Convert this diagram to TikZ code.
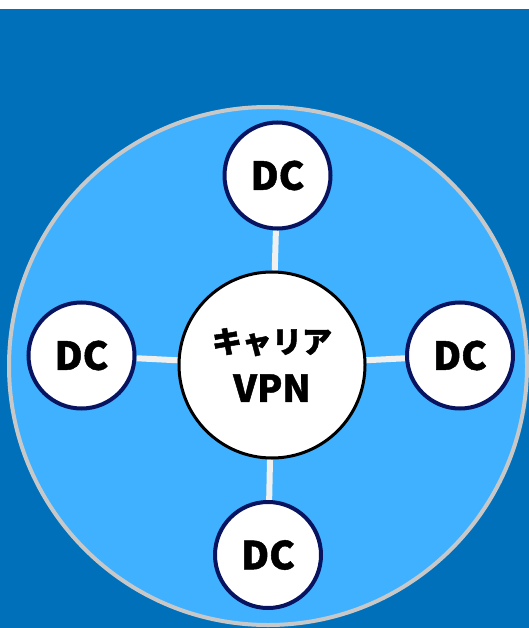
\documentclass[tikz,border=0pt]{standalone}
\usepackage{fontspec}
\setmainfont{Noto Sans CJK JP}[BoldFeatures={FakeBold=1.2}]
\newfontfamily\kanafont{Noto Sans CJK JP}[BoldFeatures={FakeBold=1.6}]
\usetikzlibrary{backgrounds}
\definecolor{deepblue}{RGB}{0,112,186}
\definecolor{skyblue}{RGB}{64,177,255}
\definecolor{ringgray}{RGB}{200,200,200}
\definecolor{navy}{RGB}{8,20,96}
\definecolor{linkgray}{RGB}{240,240,240}
\pgfdeclarelayer{back}
\pgfdeclarelayer{links}
\pgfsetlayers{back,links,main}
\tikzset{
  dcnode/.style={circle, draw=navy, line width=4pt, fill=white,
    minimum size=106pt, inner sep=0pt,
    font=\fontsize{38.5}{44}\selectfont\bfseries},
  hubnode/.style={circle, draw=black, line width=3pt, fill=white,
    minimum size=186pt, inner sep=0pt, align=center,
    font=\fontsize{37}{49}\selectfont\bfseries},
  link/.style={draw=linkgray, line width=6pt}
}
\newcommand{\kanaline}[1]{{\kanafont\bfseries\fontsize{30}{49}\selectfont #1}}
\begin{document}
\begin{tikzpicture}[x=1pt, y=-1pt]
  \useasboundingbox (0,0) rectangle (529,628);
  \begin{pgfonlayer}{back}
    \clip (0,0) rectangle (529,628);
    \fill[white] (0,0) rectangle (529,628);
    \fill[deepblue] (0,9) rectangle (529,628);
    \draw[ringgray, line width=4pt, fill=skyblue] (268,366) circle[radius=259];
  \end{pgfonlayer}

  \node[hubnode] (vpn) at (272,365) {\kanaline{キャリア}\\VPN};
  \node[dcnode] (dctop) at (277.5,175.5) {DC};
  \node[dcnode] (dcleft) at (81.5,355.5) {DC};
  \node[dcnode] (dcright) at (460,355.5) {DC};
  \node[dcnode] (dcbottom) at (268,555) {DC};

  \begin{pgfonlayer}{links}
    \draw[link] (dctop) -- (vpn);
    \draw[link] (dcleft) -- (vpn);
    \draw[link] (dcright) -- (vpn);
    \draw[link] (dcbottom) -- (vpn);
  \end{pgfonlayer}
\end{tikzpicture}
\end{document}
